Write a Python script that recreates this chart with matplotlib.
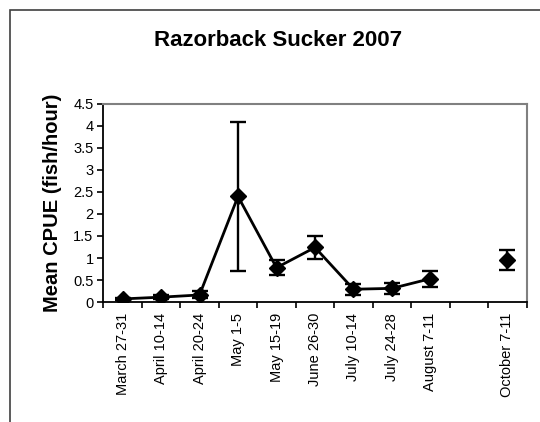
import numpy as np
import matplotlib
matplotlib.use("Agg")
import matplotlib.pyplot as plt
from matplotlib.patches import Rectangle

plt.rcParams["font.family"] = ["Liberation Sans", "DejaVu Sans"]

# Sampling periods (the blank slot keeps the gap before October)
periods = ["March 27-31", "April 10-14", "April 20-24", "May 1-5", "May 15-19",
           "June 26-30", "July 10-14", "July 24-28", "August 7-11", "", "October 7-11"]
mean_cpue = [0.07, 0.11, 0.16, 2.4, 0.78, 1.24, 0.29, 0.31, 0.53, np.nan, 0.95]
cpue_err = [0.03, 0.04, 0.08, 1.7, 0.17, 0.27, 0.13, 0.13, 0.18, np.nan, 0.23]
y_ticks = [0, 0.5, 1, 1.5, 2, 2.5, 3, 3.5, 4, 4.5]

W, H = 540, 422
fig = plt.figure(figsize=(W / 100, H / 100), dpi=100)
fig.patch.set_facecolor("white")

# chart frame, only the top and left edges fall inside the image
fig.patches.append(Rectangle((10 / W, -0.2), 1.2, 1.2 - 10 / H,
                             transform=fig.transFigure, fill=False,
                             edgecolor="#404040", linewidth=1.2))

ax = fig.add_axes([103.3 / W, 1 - 302 / H, (526.7 - 103.3) / W, (302 - 104) / H])
x = np.arange(len(periods))

ax.errorbar(x, mean_cpue, yerr=cpue_err, fmt="none", ecolor="black",
            elinewidth=1.7, capsize=6, capthick=1.7, zorder=2)
ax.plot(x, mean_cpue, color="black", linewidth=2, marker="D",
        markersize=8, markerfacecolor="black", markeredgecolor="black", zorder=3)

ax.set_xlim(-0.5, len(periods) - 0.5)
ax.set_ylim(0, 4.5)
ax.set_yticks(y_ticks)
ax.set_yticklabels([f"{v:g}" for v in y_ticks])

# labels at category centres, tick marks on the boundaries
ax.set_xticks(x)
ax.set_xticklabels(periods, rotation=90)
ax.set_xticks(np.arange(len(periods) + 1) - 0.5, minor=True)
ax.tick_params(axis="x", which="major", length=0, pad=8, labelsize=10.5)
ax.tick_params(axis="x", which="minor", length=4, width=1.2, direction="out")
ax.tick_params(axis="y", length=4, width=1.2, direction="out", pad=3, labelsize=10.5)

for side in ("top", "right"):
    ax.spines[side].set_color("#808080")
    ax.spines[side].set_linewidth(1.5)
for side in ("left", "bottom"):
    ax.spines[side].set_color("black")
    ax.spines[side].set_linewidth(1.3)

ax.set_ylabel("Mean CPUE (fish/hour)", fontsize=14.5, fontweight="bold", labelpad=8)
fig.text(278 / W, 1 - 40 / H, "Razorback Sucker 2007", ha="center", va="center",
         fontsize=16, fontweight="bold")

fig.savefig("out.png", dpi=100)
